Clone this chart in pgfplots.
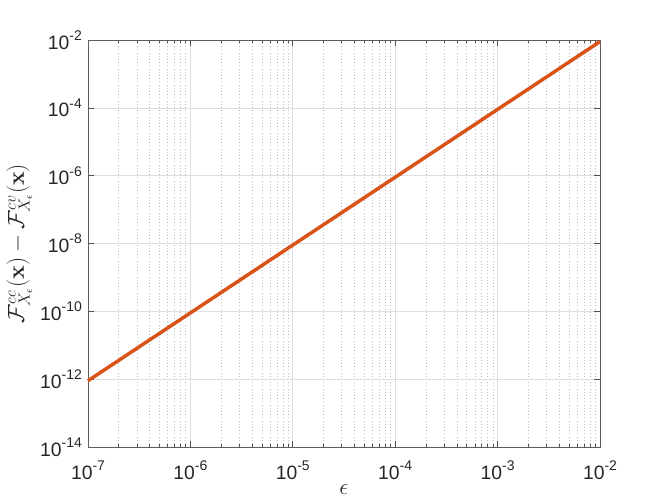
\documentclass[border=0pt]{standalone}
\usepackage[no-math]{fontspec}
\setmainfont{Liberation Sans}
\usepackage{pgfplots}
\pgfplotsset{compat=1.18}
\definecolor{lineor}{RGB}{217,83,25}
\definecolor{axgray}{RGB}{38,38,38}
\newcommand{\tenpow}[1]{10\raisebox{0.85ex}{\fontsize{10.5}{12}\selectfont #1}}
\begin{document}
\begin{tikzpicture}
\begin{axis}[
  width=384pt, height=305.25pt, scale only axis,
  xmode=log, ymode=log, log basis x=10, log basis y=10,
  xmin=1e-7, xmax=1e-2, ymin=1e-14, ymax=1e-2,
  xtick={1e-7,1e-6,1e-5,1e-4,1e-3,1e-2},
  minor xtick={2e-7,3e-7,4e-7,5e-7,6e-7,7e-7,8e-7,9e-7,
               2e-6,3e-6,4e-6,5e-6,6e-6,7e-6,8e-6,9e-6,
               2e-5,3e-5,4e-5,5e-5,6e-5,7e-5,8e-5,9e-5,
               2e-4,3e-4,4e-4,5e-4,6e-4,7e-4,8e-4,9e-4,
               2e-3,3e-3,4e-3,5e-3,6e-3,7e-3,8e-3,9e-3},
  ytick={1e-14,1e-12,1e-10,1e-8,1e-6,1e-4,1e-2},
  minor y tick style={draw=none},
  xmajorgrids, xminorgrids, ymajorgrids,
  major grid style={draw=black!13, line width=0.5pt},
  minor grid style={draw=black!25, line width=0.5pt, dash pattern=on 0.6pt off 1.8pt},
  tick align=inside,
  axis line style={draw=axgray!75, line width=0.6pt},
  every tick/.style={draw=axgray!80, line width=0.5pt},
  major tick length=4.5pt, minor tick length=2.5pt,
  xticklabel={\tenpow{\pgfmathparse{int(round(\tick))}\pgfmathresult}},
  yticklabel={\tenpow{\pgfmathparse{int(round(\tick))}\pgfmathresult}},
  tick label style={font=\fontsize{14.5}{17}\selectfont, text=axgray},
  xticklabel style={yshift=-7pt},
  yticklabel style={xshift=-1pt},
  xlabel={$\epsilon$},
  ylabel={$\mathcal{F}^{cc}_{X_\epsilon}(\mathbf{x})-\mathcal{F}^{cv}_{X_\epsilon}(\mathbf{x})$},
  label style={text=axgray},
  xlabel style={font=\fontsize{18}{21}\selectfont, at={(axis description cs:0.5,0)}, anchor=center, yshift=-32pt},
  ylabel style={font=\fontsize{16.5}{19}\selectfont, at={(axis description cs:-0.134,0.5)}, anchor=center},
  clip=false,
]
\addplot[lineor, line width=2.6pt] coordinates {
  (1e-7,9e-13) (1e-6,9e-11) (1e-5,9e-9) (1e-4,9e-7) (1e-3,9e-5) (1e-2,9e-3)
};
\end{axis}
\pgfresetboundingbox
\useasboundingbox ([shift={(-66pt,-42pt)}]current axis.south west) rectangle ([shift={(48pt,30pt)}]current axis.north east);
\end{tikzpicture}
\end{document}
